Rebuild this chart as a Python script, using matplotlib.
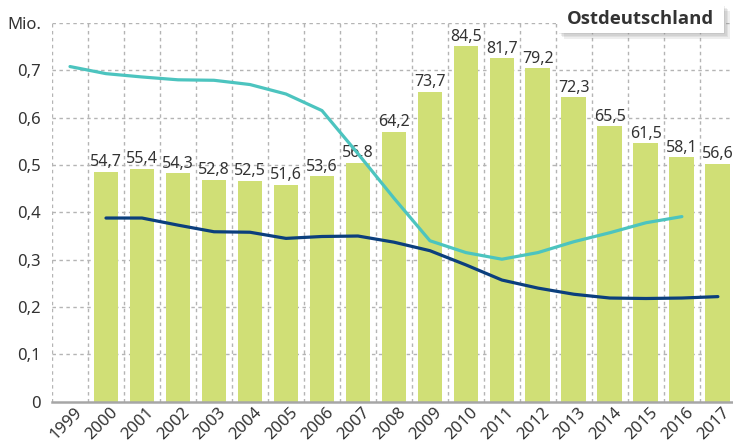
import numpy as np
import matplotlib
matplotlib.use("Agg")
import matplotlib.pyplot as plt
import matplotlib.patheffects as pe
from matplotlib.patches import Rectangle
from matplotlib.transforms import ScaledTranslation

# Data
years = [str(y) for y in range(1999, 2018)]
bar_years = years[1:]  # 2000-2017
bar_pct = [54.7, 55.4, 54.3, 52.8, 52.5, 51.6, 53.6, 56.8, 64.2,
           73.7, 84.5, 81.7, 79.2, 72.3, 65.5, 61.5, 58.1, 56.6]
teal_years = years[:18]  # 1999-2016
teal_vals = [0.708, 0.693, 0.686, 0.680, 0.679, 0.670, 0.650, 0.615, 0.524,
             0.430, 0.340, 0.315, 0.301, 0.315, 0.338, 0.357, 0.378, 0.391]
navy_years = years[1:]  # 2000-2017
navy_vals = [0.388, 0.388, 0.373, 0.359, 0.358, 0.345, 0.349, 0.350, 0.337,
             0.319, 0.289, 0.257, 0.240, 0.227, 0.219, 0.218, 0.219, 0.222]
y_ticks = [0.0, 0.1, 0.2, 0.3, 0.4, 0.5, 0.6, 0.7, 0.8]
y_labels = ["0", "0,1", "0,2", "0,3", "0,4", "0,5", "0,6", "0,7", "Mio."]
title = "Ostdeutschland"

# Style
plt.rcParams["font.family"] = ["Noto Sans", "DejaVu Sans"]
TXT = "#333333"
GRID = "#b4b4b4"
BAR = "#d0df76"
TEAL = "#4cc4bf"
NAVY = "#0b3f7d"

pos = {y: i for i, y in enumerate(years)}

fig = plt.figure(figsize=(7.33, 4.47), dpi=100)
ax = fig.add_axes([52 / 733, 1 - 401.7 / 447, 1 - 52 / 733, (401.7 - 23) / 447])
ax2 = ax.twinx()
ax.set_zorder(2)
ax.patch.set_visible(False)
ax2.set_zorder(1)

ax.set_xlim(-0.5, 18.42)
ax.set_ylim(0, 0.8)
ax2.set_ylim(0, 90)

# grid (behind bars)
for k in range(len(years)):
    ax2.axvline(k - 0.5, color=GRID, lw=1, ls=(0, (2.5, 2.5)), zorder=0)
for v in y_ticks[1:]:
    ax2.axhline(v * 90 / 0.8, color=GRID, lw=1, ls=(0, (2.5, 2.5)), zorder=0)

bars = ax2.bar([pos[y] for y in bar_years], bar_pct, width=0.69, color=BAR, zorder=1)
ax2.bar_label(bars, labels=[f"{v:.1f}".replace(".", ",") for v in bar_pct],
              padding=1, fontsize=11.5, color=TXT)
ax2.set_yticks([])
for s in ax2.spines.values():
    s.set_visible(False)

ax.plot([pos[y] for y in teal_years], teal_vals, color=TEAL, lw=2.3,
        solid_capstyle="round", solid_joinstyle="round")
ax.plot([pos[y] for y in navy_years], navy_vals, color=NAVY, lw=2.3,
        solid_capstyle="round", solid_joinstyle="round")

for s in ["left", "right", "top"]:
    ax.spines[s].set_visible(False)
ax.spines["bottom"].set_color("#a6a6a6")
ax.spines["bottom"].set_linewidth(1.8)

ax.set_yticks(y_ticks)
ax.set_yticklabels(y_labels)
ax.set_xticks(range(len(years)))
ax.set_xticklabels(years, rotation=45, ha="center", va="top")
ax.tick_params(axis="both", length=0, labelsize=12, colors=TXT)
ax.tick_params(axis="y", pad=8)
ax.tick_params(axis="x", pad=2)
off = ScaledTranslation(-4 / 100, 0, fig.dpi_scale_trans)
for lab in ax.get_xticklabels():
    lab.set_transform(lab.get_transform() + off)

# title box with soft shadow
shadow = [pe.SimplePatchShadow(offset=(d, -d), shadow_rgbFace="#808080", alpha=0.13)
          for d in (4, 3, 2, 1)]
box = Rectangle((558 / 733, 1 - 33 / 447), 166 / 733, 28 / 447,
                transform=fig.transFigure, facecolor="white", edgecolor="none",
                path_effects=shadow + [pe.Normal()])
fig.patches.append(box)
fig.text(640 / 733, 1 - 19 / 447, title, ha="center", va="center",
         fontsize=13.3, fontweight="bold", color=TXT, zorder=3,
         family=["Open Sans", "Lato", "DejaVu Sans"])

fig.savefig("out.png", dpi=100, facecolor="white")
